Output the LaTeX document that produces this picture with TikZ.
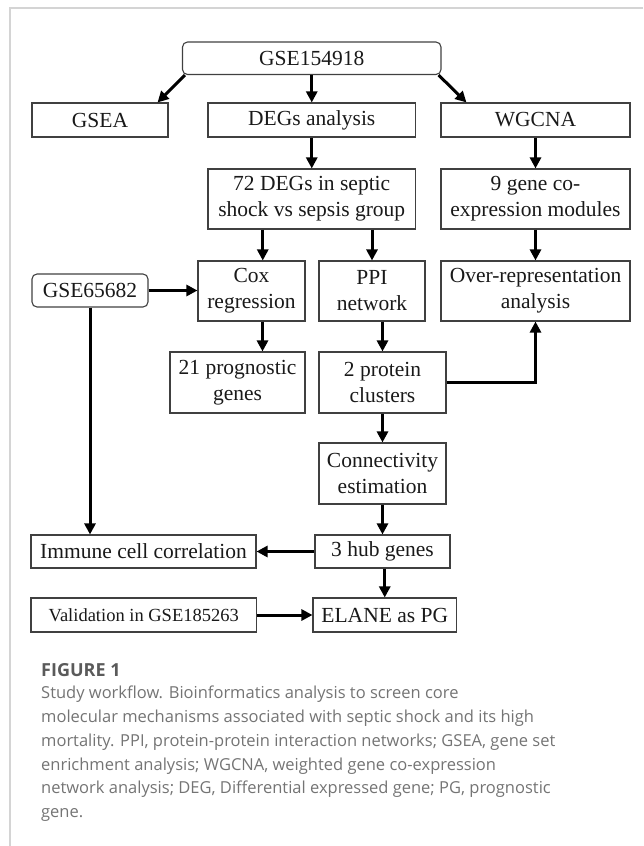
\documentclass[tikz,border=0pt]{standalone}
\usepackage{fontspec}
\setmainfont{Liberation Serif}
\newfontfamily\capfont{Open Sans}
\usetikzlibrary{arrows.meta}
\definecolor{framegray}{HTML}{D4D4D4}
\definecolor{capgray}{HTML}{747474}
\definecolor{headgray}{HTML}{5A5A5A}
\tikzset{
  box/.style={draw=black!75, line width=1.1pt, rectangle, inner sep=0pt, align=center,
    text=black!90, font=\fontsize{21.5}{26}\selectfont},
  rbox/.style={box, rounded corners=5pt},
  flow/.style={line width=3pt, -{Triangle[length=11pt,width=11pt]}},
}
\begin{document}
\begin{tikzpicture}[x=1pt,y=-1pt]
  \useasboundingbox (0,0) rectangle (643,846);
  \draw[framegray, line width=1.5pt] (643,8) -- (10,8) -- (10,846);
  \draw
    (311.75,58.25) node[rbox, minimum width=258.5pt, minimum height=32.5pt] (gse154918){GSE154918}
    (100,120) node[box, minimum width=136pt, minimum height=34pt] (gsea){GSEA}
    (311.75,120) node[box, minimum width=207.5pt, minimum height=34pt] (degs){DEGs analysis}
    (535.5,120) node[box, minimum width=189pt, minimum height=34pt] (wgcna){WGCNA}
    (311.75,199) node[box, minimum width=207.5pt, minimum height=60pt] (degs72){72 DEGs in septic\\shock vs sepsis group}
    (535.5,199) node[box, minimum width=189pt, minimum height=60pt] (modules){9 gene co-\\expression modules}
    (90,290.5) node[rbox, minimum width=116pt, minimum height=33pt] (gse65682){GSE65682}
    (251.5,291) node[box, minimum width=107pt, minimum height=60pt] (cox){Cox\\regression}
    (372,291) node[box, minimum width=106pt, minimum height=60pt] (ppi){PPI\\network}
    (535.5,291) node[box, minimum width=189pt, minimum height=60pt] (ora){Over-representation\\analysis}
    (237.5,382.5) node[box, minimum width=135pt, minimum height=61pt] (prog){21 prognostic\\genes}
    (382.5,382.5) node[box, minimum width=127pt, minimum height=61pt] (clusters){2 protein\\clusters}
    (382.5,473.5) node[box, minimum width=127pt, minimum height=61pt] (conn){Connectivity\\estimation}
    (143.5,551.5) node[box, minimum width=225pt, minimum height=33pt] (immune){Immune cell correlation}
    (382.5,551.5) node[box, minimum width=135pt, minimum height=33pt] (hub){3 hub genes}
    (143.75,615) node[box, minimum width=225.5pt, minimum height=34pt, font=\fontsize{18.5}{22}\selectfont] (valid){Validation in GSE185263}
    (384.75,615) node[box, minimum width=143.5pt, minimum height=34pt] (elane){ELANE as PG};
  \begin{scope}[flow]
    \draw ([xshift=3pt]gse154918.south west) to ([xshift=-11pt]gsea.north east);
    \draw (gse154918.south) to (degs.north);
    \draw ([xshift=-3pt]gse154918.south east) to ([xshift=26pt]wgcna.north west);
    \draw (degs.south) to (degs72.north);
    \draw (wgcna.south) to (modules.north);
    \draw ([xshift=-49pt]degs72.south) to ([xshift=-49pt]degs72.south |- cox.north);
    \draw (degs72.south -| ppi.north) to (ppi.north);
    \draw (modules.south) to (ora.north);
    \draw (gse65682.east) to (gse65682.east -| cox.west);
    \draw ([xshift=11pt]cox.south) to ([xshift=11pt]cox.south |- prog.north);
    \draw (ppi.south -| clusters.north) to (clusters.north);
    \draw (clusters.east) -| (ora.south);
    \draw (gse65682.south) to (gse65682.south |- immune.north);
    \draw (clusters.south) to (conn.north);
    \draw (conn.south) to (hub.north);
    \draw (hub.west) to (immune.east);
    \draw (hub.south -| elane.north) to (elane.north);
    \draw (valid.east) to (elane.west);
  \end{scope}
  \node[anchor=base west, inner sep=0pt, text=headgray, font=\capfont\bfseries\fontsize{18}{20}\selectfont] (figlabel) at (41,676) {FIGURE 1};
  \node[anchor=north west, inner sep=0pt, align=left, text=capgray, font=\capfont\fontsize{16.5}{23.75}\selectfont] (caption) at (41,686)
    {Study workflow. Bioinformatics analysis to screen core\\
     molecular mechanisms associated with septic shock and its high\\
     mortality. PPI, protein-protein interaction networks; GSEA, gene set\\
     enrichment analysis; WGCNA, weighted gene co-expression\\
     network analysis; DEG, Differential expressed gene; PG, prognostic\\
     gene.};
\end{tikzpicture}
\end{document}
